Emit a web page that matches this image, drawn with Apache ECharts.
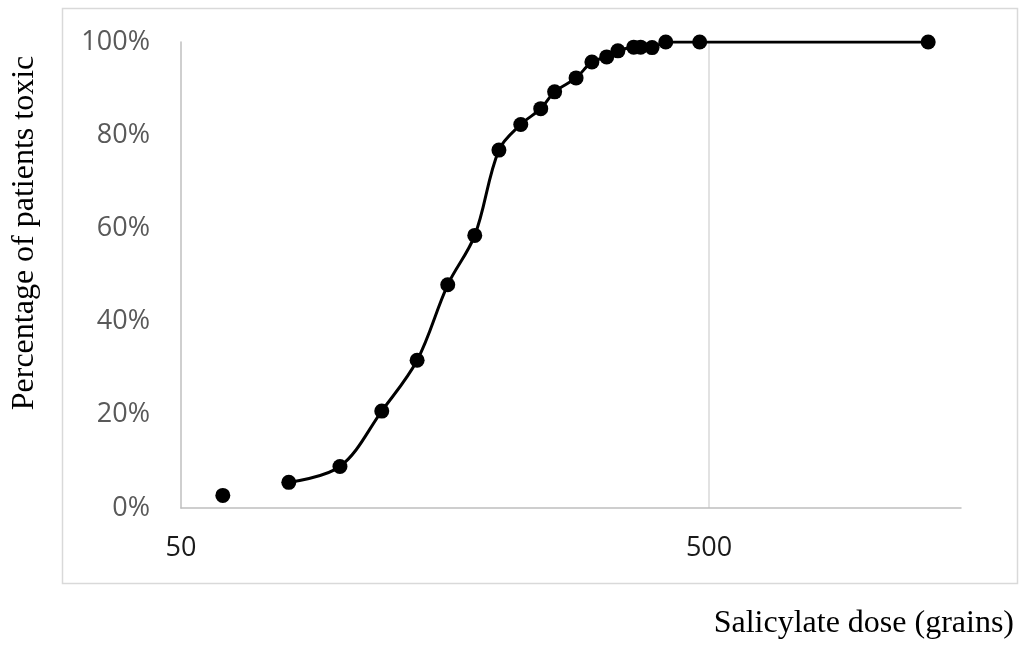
<!DOCTYPE html>
<html>
<head>
<meta charset="utf-8">
<script src="https://cdn.jsdelivr.net/npm/echarts@6/dist/echarts.min.js"></script>
<style>
  html, body { margin: 0; padding: 0; background: #ffffff; }
  #chart { width: 1022px; height: 645px; }
</style>
</head>
<body>
<div id="chart"></div>
<script>
// Salicylate dose (grains) and cumulative percentage of patients toxic
var doses = [60, 80, 100, 120, 140, 160, 180, 200, 220, 240, 255, 280, 300, 320, 336, 360, 371, 390, 414, 480, 1300];
var percents = [2.7, 5.5, 8.9, 20.8, 31.7, 47.9, 58.5, 76.8, 82.3, 85.7, 89.3, 92.3, 95.7, 96.8, 98.1, 98.9, 98.9, 98.8, 100, 100, 100];
// the first observation is plotted but not joined to the curve
var firstJoinedIndex = 1;
// logarithmic x axis: base value, decade factor between labelled ticks, axis maximum
var xBase = 50;
var xDecade = 10;
var xMaxDose = 1500;
var yTicks = [0, 20, 40, 60, 80, 100];
var xTitle = 'Salicylate dose (grains)';
var yTitle = 'Percentage of patients toxic';

// decades above the axis base (log scale)
function toLog(d) { return Math.log(d / xBase) / Math.log(xDecade); }
function pts(from, to) {
  var out = [];
  for (var i = from; i < to; i++) out.push([toLog(doses[i]), percents[i]]);
  return out;
}

var chart = echarts.init(document.getElementById('chart'), null, { renderer: 'canvas' });
var markerStyle = { color: '#000000', opacity: 1 };
chart.setOption({
  animation: false,
  backgroundColor: '#ffffff',
  grid: { left: 181, right: 61, top: 42, bottom: 137, containLabel: false },
  xAxis: {
    type: 'value',
    min: 0,
    max: toLog(xMaxDose),
    interval: 1,
    axisLine: { show: true, onZero: false, lineStyle: { color: '#bfbfbf', width: 1.5 } },
    axisTick: { show: false },
    splitLine: { show: true, showMinLine: false, showMaxLine: false, lineStyle: { color: '#d9d9d9', width: 1.5 } },
    axisLabel: {
      showMaxLabel: false,
      margin: 27,
      color: '#1a1a1a',
      fontFamily: 'Open Sans',
      fontSize: 27,
      formatter: function (v) { return String(Math.round(xBase * Math.pow(xDecade, v))); }
    }
  },
  yAxis: {
    type: 'value',
    min: yTicks[0],
    max: yTicks[yTicks.length - 1],
    interval: yTicks[1] - yTicks[0],
    axisLine: { show: true, lineStyle: { color: '#bfbfbf', width: 1.5 } },
    axisTick: { show: false },
    splitLine: { show: false },
    axisLabel: {
      margin: 31,
      color: '#595959',
      fontFamily: 'Open Sans',
      fontSize: 27,
      formatter: '{value}%'
    }
  },
  graphic: [
    {
      type: 'rect',
      shape: { x: 62.5, y: 8.5, width: 955, height: 575 },
      style: { fill: 'none', stroke: '#d9d9d9', lineWidth: 1.5 },
      silent: true, z: -10
    },
    {
      type: 'text',
      x: 25, y: 233, rotation: Math.PI / 2,
      style: {
        text: yTitle, fill: '#000000',
        font: '32px "Liberation Serif", "Times New Roman", serif',
        textAlign: 'center', textVerticalAlign: 'middle'
      }
    },
    {
      type: 'text',
      x: 1014, y: 624,
      style: {
        text: xTitle, fill: '#000000',
        font: '32px "Liberation Serif", "Times New Roman", serif',
        textAlign: 'right', textVerticalAlign: 'middle'
      }
    }
  ],
  series: [
    {
      type: 'line',
      data: pts(firstJoinedIndex, doses.length),
      smooth: 0.35,
      symbol: 'circle',
      symbolSize: 15,
      showAllSymbol: true,
      itemStyle: markerStyle,
      lineStyle: { color: '#000000', width: 3 },
      z: 3
    },
    {
      type: 'scatter',
      data: pts(0, firstJoinedIndex),
      symbol: 'circle',
      symbolSize: 15,
      itemStyle: markerStyle,
      z: 3
    }
  ]
});
</script>
</body>
</html>
